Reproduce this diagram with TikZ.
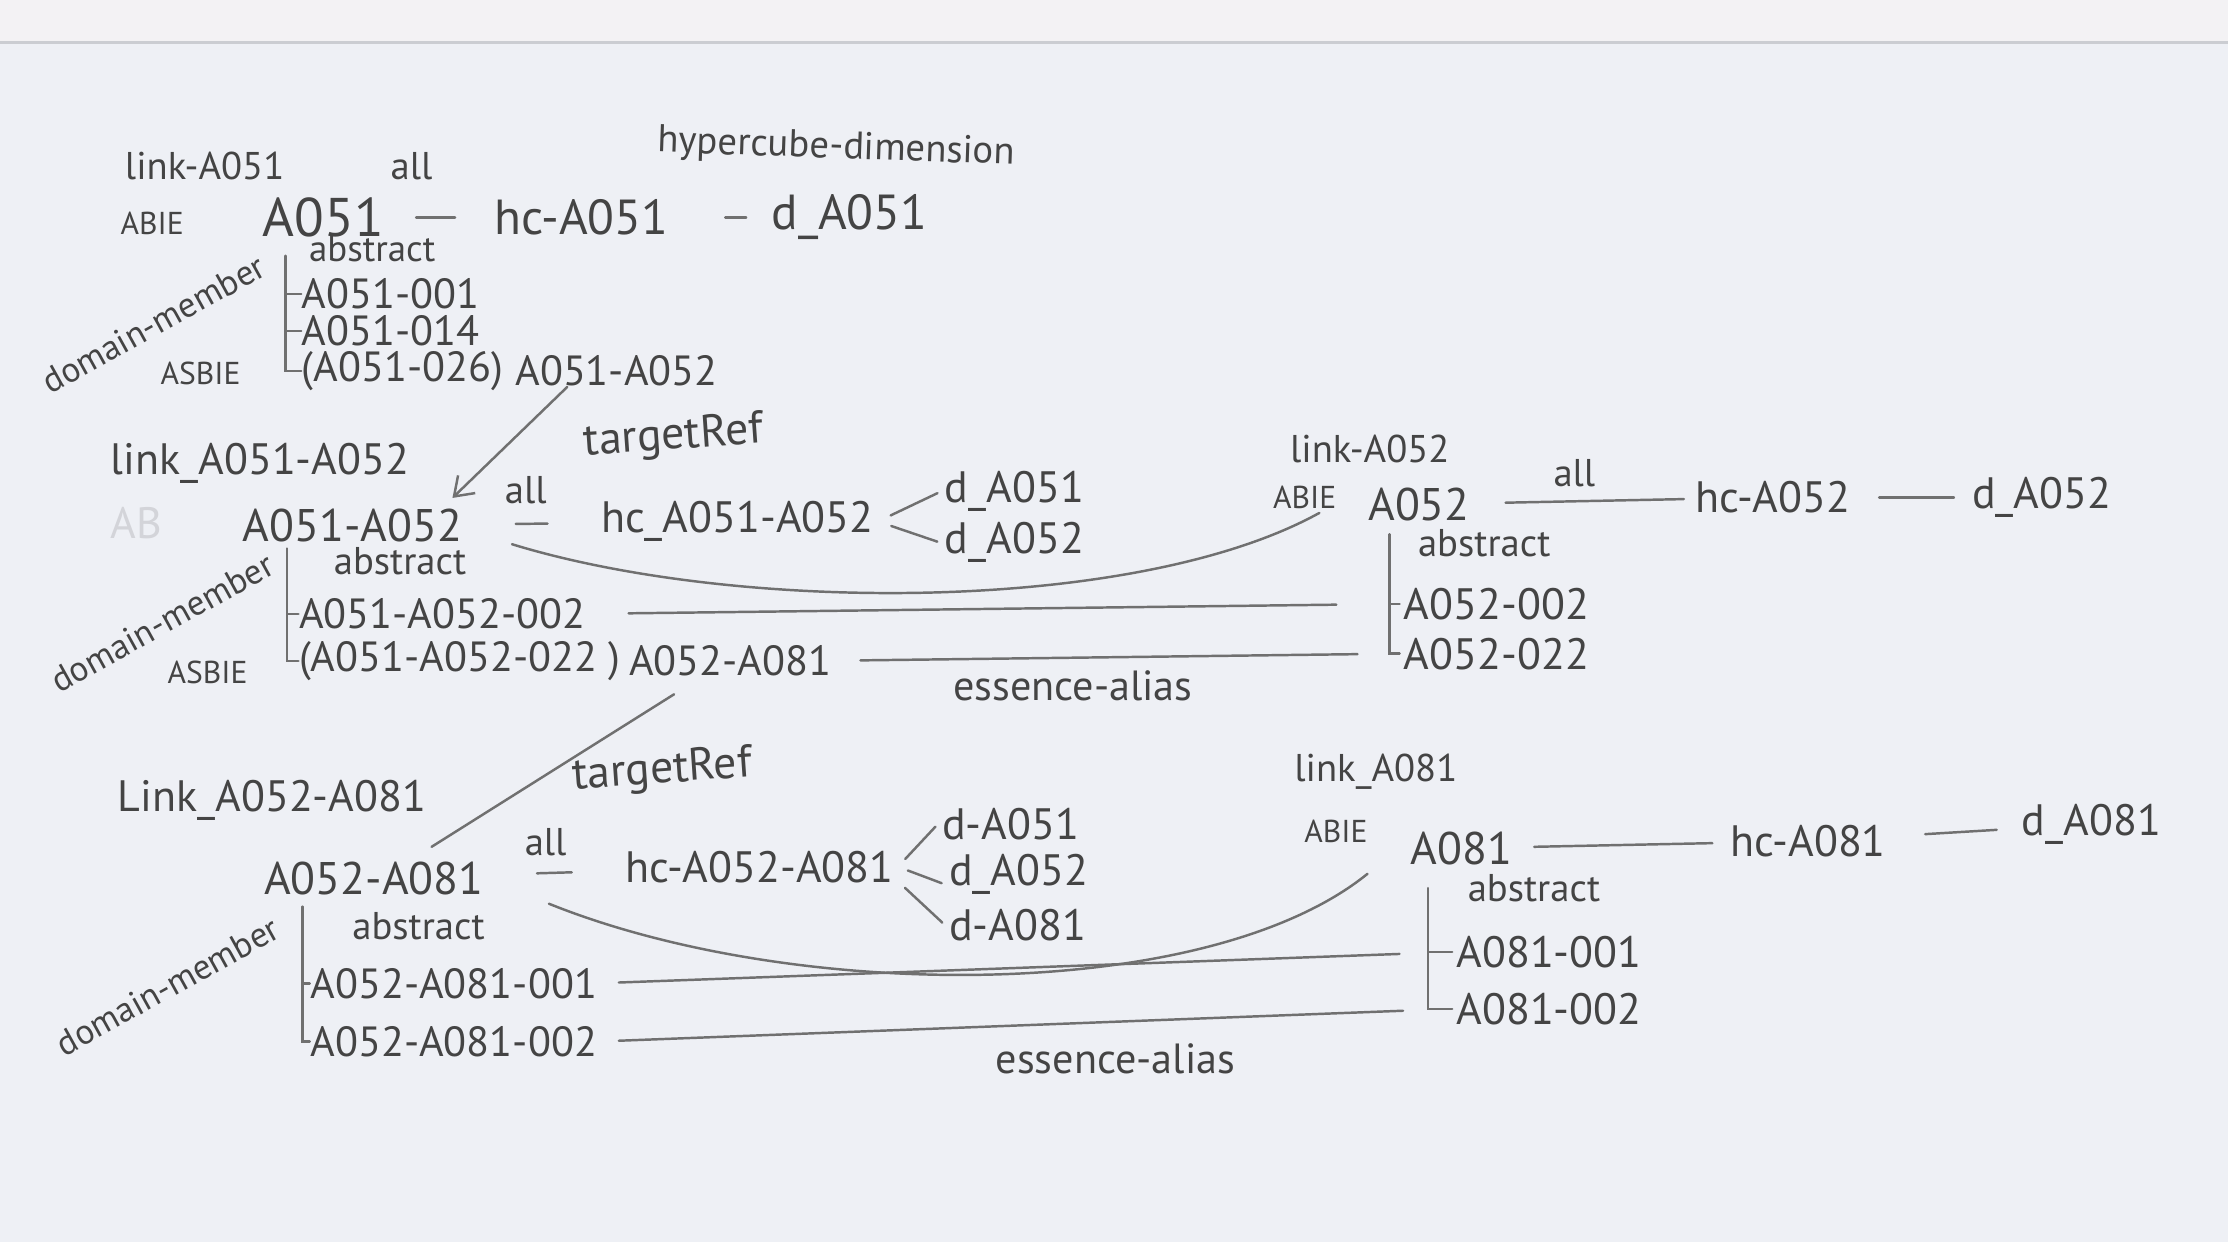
\documentclass[tikz,border=0pt]{standalone}
\usepackage{fontspec}
\setmainfont{PT Sans}
\usepackage{tikz}
\usetikzlibrary{arrows.meta}
\definecolor{paper}{HTML}{EEF0F5}
\definecolor{scanband}{HTML}{F3F2F4}
\definecolor{scanedge}{HTML}{CBCDD2}
\definecolor{pencil}{HTML}{444444}
\definecolor{lead}{HTML}{707070}
\definecolor{ghost}{HTML}{D3D4D9}

\begin{document}
\begin{tikzpicture}[x=0.01421cm,y=-0.01421cm,
    hw/.style={text=pencil,inner sep=1pt,font=\fontsize{12.5}{14}\selectfont},
    tag/.style={hw,font=\fontsize{9}{10}\selectfont},
    big/.style={hw,font=\fontsize{14}{16}\selectfont},
    mid/.style={hw,font=\fontsize{13}{15}\selectfont},
    note/.style={hw,font=\fontsize{11}{13}\selectfont},
    tight/.style={hw,inner sep=0pt,font=\fontsize{12}{13}\selectfont},
    dm/.style={hw,inner sep=0pt,font=\fontsize{10}{11}\selectfont,rotate=29},
    wire/.style={draw=lead,line width=0.7pt,line cap=round}]
  % Paper
  \useasboundingbox (0,0) rectangle (1568,874);
  \fill[paper] (0,30) rectangle (1568,874);
  \fill[scanband] (0,0) rectangle (1568,30);
  \draw[scanedge,line width=0.8pt] (0,30) -- (1568,30);

  % ABIE A051
  \node[note,anchor=west] (lnkA) at (85,117) {link-A051};
  \node[note,anchor=west] (allA) at (272,117) {all};
  \node[note,anchor=west,rotate=-2] (hypA) at (460,100) {hypercube-dimension};
  \node[tag,anchor=west] (abieA) at (82,157) {ABIE};
  \node[hw,anchor=west,font=\fontsize{15.5}{17}\selectfont] (a051) at (182,153) {A051};
  \node[big,anchor=west] (hcA) at (345,153) {hc-A051};
  \node[big,anchor=west] (dA) at (540,153) {d\_A051};
  \draw[wire,shorten <=8pt,shorten >=10pt] (a051) -- (hcA);
  \draw[wire,shorten <=15pt,shorten >=6pt] (hcA) -- (dA);

  \coordinate (barA) at (201,180);
  \node[tight,anchor=west,font=\fontsize{10.5}{12}\selectfont] (absA) at (217,175) {abstract};
  \node[tight,anchor=west] (mA1) at (212,207) {A051-001};
  \node[tight,anchor=west] (mA2) at (212,233) {A051-014};
  \node[tag,anchor=west] (asbA) at (110,263) {ASBIE};
  \node[tight,anchor=west] (mA3) at (212,261) {(A051-026)};
  \node[tight,anchor=west] (tgtA) at ([xshift=3pt]mA3.east) {A051-A052};
  \draw[wire] (barA) |- (mA1.west) (barA) |- (mA2.west) (barA) |- (mA3.west);
  \node[dm] (dmA) at (108,228) {domain-member};

  % link A051-A052
  \node[hw,anchor=west] (lnkB) at (75,326) {link\_A051-A052};
  \node[hw,anchor=west,text=ghost] (ghostB) at (75,368) {AB};
  \node[mid,anchor=west] (ab2) at (168,370) {A051-A052};
  \node[hw,rotate=4,font=\fontsize{13}{15}\selectfont] (trA) at (474,308) {targetRef};
  \draw[wire,-{Straight Barb[length=5pt,width=7pt]}]
    ([xshift=-14pt]tgtA.south) -- ([xshift=-4pt,yshift=2pt]ab2.north east);
  \node[note] (allB) at (370,345) {all};
  \node[hw,anchor=west] (hcB) at (420,367) {hc\_A051-A052};
  \node[hw,anchor=west] (dB1) at (662,346) {d\_A051};
  \node[hw,anchor=west] (dB2) at (662,382) {d\_A052};
  \draw[wire,shorten <=14pt,shorten >=14pt] (ab2) -- (hcB);
  \draw[wire,shorten <=4pt,shorten >=1pt] (hcB.east) -- (dB1.west);
  \draw[wire,shorten <=4pt,shorten >=1pt] (hcB.east) -- (dB2.west);

  \coordinate (barB) at (202,386);
  \node[hw,anchor=west,font=\fontsize{11}{13}\selectfont] (absB) at (232,395) {abstract};
  \node[tight,anchor=west] (mB1) at (210,432) {A051-A052-002};
  \node[tag,anchor=west] (asbB) at (115,473) {ASBIE};
  \node[tight,anchor=west] (mB2) at (210,465) {(A051-A052-022 )};
  \node[tight,anchor=west] (tgtB) at ([xshift=2pt]mB2.east) {A052-A081};
  \draw[wire] (barB) |- (mB1.west) (barB) |- (mB2.west);
  \node[dm] (dmB) at (114,438) {domain-member};

  % ABIE A052
  \node[note,anchor=west] (lnkR2) at (905,316) {link-A052};
  \node[tag,anchor=west] (abieB) at (893,350) {ABIE};
  \node[mid,anchor=west] (bB) at (960,355) {A052};
  \node[note] (allR2) at (1108,333) {all};
  \node[hw,anchor=west] (hcR2) at (1190,350) {hc-A052};
  \node[hw,anchor=west] (dR2) at (1385,350) {d\_A052};
  \draw[wire,shorten <=9pt,shorten >=2pt] (bB) -- (hcR2);
  \draw[wire,shorten <=7pt,shorten >=4pt] (hcR2) -- (dR2);

  \coordinate (barR2) at (978,376);
  \node[hw,anchor=west,font=\fontsize{11}{13}\selectfont] (absR2) at (995,382) {abstract};
  \node[hw,anchor=west] (bB1) at (985,425) {A052-002};
  \node[hw,anchor=west] (bB2) at (985,460) {A052-022};
  \draw[wire] (barR2) |- (bB1.west) (barR2) |- (bB2.west);

  % essence-alias A051-A052 / A052
  \draw[wire] ([shift={(32,13)}]ab2.east) .. controls (520,432) and (800,432)
    .. ([xshift=-6pt]abieB.south east);
  \draw[wire,shorten <=12pt,shorten >=18pt] (mB1.east) -- (bB1.west);
  \draw[wire,shorten <=8pt,shorten >=12pt] (tgtB.east) -- (bB2.west);
  \node[hw,font=\fontsize{12}{14}\selectfont] (eaB) at (755,483) {essence-alias};

  % link A052-A081
  \node[hw,anchor=west] (lnkC) at (80,563) {Link\_A052-A081};
  \node[mid,anchor=west] (ab3) at (183,618) {A052-A081};
  \node[hw,rotate=4,font=\fontsize{13}{15}\selectfont] (trB) at (466,543) {targetRef};
  \draw[wire] ([xshift=-16pt,yshift=-5pt]tgtB.south) -- ([xshift=-16pt,yshift=3pt]ab3.north east);
  \node[note] (allC) at (384,593) {all};
  \node[hw,anchor=west] (hcC) at (437,610) {hc-A052-A081};
  \node[hw,anchor=west] (dC1) at (660,580) {d-A051};
  \node[hw,anchor=west] (dC2) at (665,615) {d\_A052};
  \node[hw,anchor=west] (dC3) at (665,651) {d-A081};
  \draw[wire,shorten <=14pt,shorten >=14pt] (ab3) -- (hcC);
  \draw[wire,shorten <=3pt,shorten >=1pt] (hcC.east) -- (dC1.west);
  \draw[wire,shorten <=3pt,shorten >=1pt] (hcC.east) -- ([yshift=-3pt]dC2.west);
  \draw[wire,shorten >=1pt] ([xshift=2pt,yshift=-6pt]hcC.east) -- (dC3.west);

  \coordinate (barC) at (213,638);
  \node[hw,anchor=west,font=\fontsize{11}{13}\selectfont] (absC) at (245,652) {abstract};
  \node[tight,anchor=west] (mC1) at (218,692) {A052-A081-001};
  \node[tight,anchor=west] (mC2) at (218,733) {A052-A081-002};
  \draw[wire] (barC) |- (mC1.west) (barC) |- (mC2.west);
  \node[dm] (dmC) at (118,694) {domain-member};

  % ABIE A081
  \node[note,anchor=west] (lnkR3) at (908,543) {link\_A081};
  \node[tag,anchor=west] (abieC) at (915,585) {ABIE};
  \node[mid,anchor=west] (aC) at (990,597) {A081};
  \node[hw,anchor=west] (hcR3) at (1215,592) {hc-A081};
  \node[hw,anchor=west] (dR3) at (1420,580) {d\_A081};
  \draw[wire,shorten <=5pt,shorten >=4pt] (aC) -- (hcR3);
  \draw[wire,shorten <=10pt,shorten >=6pt] (hcR3) -- (dR3);

  \coordinate (barR3) at (1005,625);
  \node[hw,anchor=west,font=\fontsize{11}{13}\selectfont] (absR3) at (1030,625) {abstract};
  \node[hw,anchor=west] (aC1) at (1022,670) {A081-001};
  \node[hw,anchor=west] (aC2) at (1022,710) {A081-002};
  \draw[wire] (barR3) |- (aC1.west) (barR3) |- (aC2.west);

  % essence-alias A052-A081 / A081
  \draw[wire] ([shift={(43,18)}]ab3.east) .. controls (560,706) and (850,706)
    .. ([shift={(-3,19)}]abieC.south east);
  \draw[wire,shorten <=6pt,shorten >=15pt] (mC1.east) -- (aC1.west);
  \draw[wire,shorten <=6pt,shorten >=14pt] (mC2.east) -- (aC2.west);
  \node[hw,font=\fontsize{12}{14}\selectfont] (eaC) at (785,745) {essence-alias};
\end{tikzpicture}
\end{document}
